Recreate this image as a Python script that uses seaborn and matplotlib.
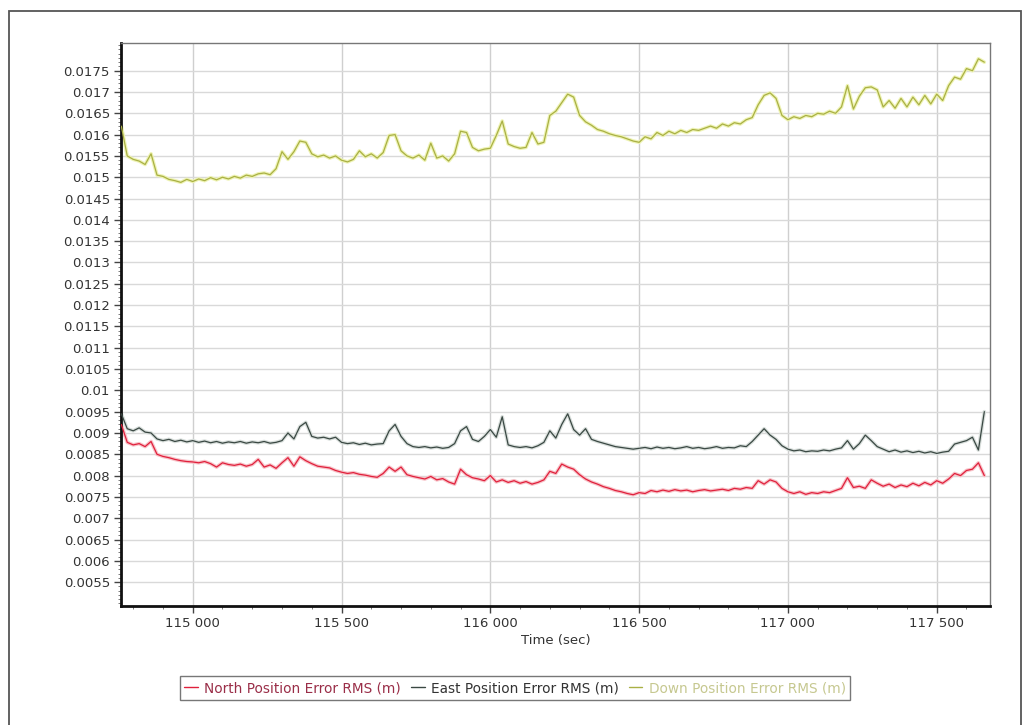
import numpy as np
import pandas as pd
import matplotlib
matplotlib.use("Agg")
import matplotlib.pyplot as plt
import seaborn as sns
from matplotlib.ticker import MultipleLocator, FixedLocator, FuncFormatter
from matplotlib.patches import Rectangle

# ---------------- data (values in millimetres) ----------------
t_start = 114760
t_step = 20

down_mm = [16.20, 15.50, 15.42, 15.38, 15.30, 15.55, 15.05, 15.02, 14.95, 14.92,
           14.88, 14.95, 14.90, 14.96, 14.92, 14.99, 14.94, 15.00, 14.96, 15.02,
           14.98, 15.05, 15.02, 15.08, 15.10, 15.06, 15.20, 15.60, 15.42, 15.60,
           15.85, 15.82, 15.55, 15.48, 15.52, 15.45, 15.50, 15.40, 15.36, 15.42,
           15.62, 15.48, 15.55, 15.45, 15.58, 15.98, 16.00, 15.62, 15.50, 15.45,
           15.52, 15.40, 15.80, 15.45, 15.50, 15.38, 15.55, 16.08, 16.05, 15.70,
           15.62, 15.66, 15.68, 15.98, 16.32, 15.78, 15.72, 15.68, 15.70, 16.05,
           15.78, 15.82, 16.45, 16.55, 16.75, 16.95, 16.88, 16.45, 16.30, 16.22,
           16.12, 16.08, 16.02, 15.98, 15.95, 15.90, 15.85, 15.82, 15.95, 15.90,
           16.05, 15.98, 16.08, 16.02, 16.10, 16.05, 16.12, 16.10, 16.15, 16.20,
           16.15, 16.25, 16.20, 16.28, 16.25, 16.35, 16.40, 16.70, 16.92, 16.98,
           16.85, 16.45, 16.35, 16.42, 16.38, 16.45, 16.42, 16.50, 16.48, 16.55,
           16.50, 16.65, 17.15, 16.60, 16.90, 17.10, 17.12, 17.05, 16.65, 16.80,
           16.62, 16.85, 16.65, 16.88, 16.70, 16.92, 16.72, 16.95, 16.80, 17.15,
           17.35, 17.30, 17.55, 17.50, 17.78, 17.70]

east_mm = [9.45, 9.10, 9.05, 9.12, 9.02, 9.00, 8.86, 8.82, 8.85, 8.80,
           8.83, 8.79, 8.82, 8.78, 8.81, 8.77, 8.80, 8.76, 8.79, 8.77,
           8.80, 8.76, 8.79, 8.77, 8.80, 8.76, 8.78, 8.82, 9.00, 8.86,
           9.15, 9.25, 8.92, 8.88, 8.90, 8.86, 8.90, 8.78, 8.75, 8.77,
           8.73, 8.76, 8.72, 8.74, 8.75, 9.05, 9.20, 8.92, 8.75, 8.68,
           8.66, 8.68, 8.65, 8.67, 8.64, 8.66, 8.75, 9.05, 9.15, 8.85,
           8.80, 8.92, 9.08, 8.90, 9.38, 8.72, 8.68, 8.66, 8.68, 8.65,
           8.70, 8.78, 9.05, 8.88, 9.20, 9.45, 9.08, 8.95, 9.10, 8.85,
           8.80, 8.76, 8.72, 8.68, 8.66, 8.64, 8.62, 8.64, 8.66, 8.63,
           8.67, 8.64, 8.66, 8.63, 8.65, 8.68, 8.64, 8.66, 8.63, 8.65,
           8.68, 8.64, 8.66, 8.65, 8.70, 8.68, 8.80, 8.95, 9.10, 8.95,
           8.85, 8.70, 8.62, 8.58, 8.60, 8.56, 8.58, 8.57, 8.60, 8.58,
           8.62, 8.65, 8.82, 8.62, 8.75, 8.95, 8.82, 8.68, 8.62, 8.56,
           8.60, 8.55, 8.58, 8.54, 8.57, 8.53, 8.56, 8.52, 8.55, 8.57,
           8.74, 8.78, 8.82, 8.90, 8.60, 9.50]

north_mm = [9.20, 8.78, 8.72, 8.75, 8.68, 8.80, 8.50, 8.45, 8.42, 8.38,
            8.35, 8.33, 8.32, 8.30, 8.33, 8.28, 8.20, 8.30, 8.26, 8.24,
            8.27, 8.22, 8.26, 8.38, 8.20, 8.25, 8.17, 8.30, 8.42, 8.22,
            8.44, 8.35, 8.28, 8.22, 8.20, 8.18, 8.12, 8.08, 8.05, 8.07,
            8.03, 8.01, 7.98, 7.96, 8.05, 8.20, 8.10, 8.20, 8.02, 7.98,
            7.95, 7.92, 7.98, 7.90, 7.93, 7.85, 7.80, 8.15, 8.02, 7.95,
            7.92, 7.88, 8.00, 7.85, 7.90, 7.84, 7.88, 7.82, 7.86, 7.80,
            7.84, 7.90, 8.10, 8.05, 8.27, 8.20, 8.15, 8.02, 7.92, 7.85,
            7.80, 7.74, 7.70, 7.65, 7.62, 7.58, 7.55, 7.60, 7.58, 7.65,
            7.62, 7.66, 7.63, 7.67, 7.64, 7.66, 7.62, 7.65, 7.67, 7.64,
            7.66, 7.68, 7.65, 7.70, 7.68, 7.72, 7.70, 7.88, 7.80, 7.90,
            7.85, 7.70, 7.62, 7.58, 7.62, 7.56, 7.60, 7.58, 7.62, 7.60,
            7.65, 7.70, 7.95, 7.72, 7.75, 7.70, 7.90, 7.82, 7.75, 7.80,
            7.72, 7.78, 7.74, 7.82, 7.76, 7.84, 7.78, 7.88, 7.82, 7.92,
            8.05, 8.00, 8.12, 8.15, 8.30, 8.00]

time_sec = [t_start + t_step * i for i in range(len(north_mm))]

series_names = ["North Position Error RMS (m)",
                "East Position Error RMS (m)",
                "Down Position Error RMS (m)"]
line_colors = ["#e0203c", "#3a4843", "#a9b044"]
halo_colors = ["#f7c2c8", "#d8dedb", "#eef3b4"]
legend_text_colors = ["#9a2e48", "#333333", "#c6c890"]

y_ticks = [v / 10000 for v in range(55, 180, 5)]
x_ticks = [115000, 115500, 116000, 116500, 117000, 117500]

# ---------------- build table ----------------
frames = []
for name, vals in zip(series_names, [north_mm, east_mm, down_mm]):
    frames.append(pd.DataFrame({"time": time_sec,
                                "value": np.array(vals) / 1000.0,
                                "series": name}))
df = pd.concat(frames, ignore_index=True)

# ---------------- figure ----------------
sns.set_style("white")
plt.rcParams["font.family"] = ["DejaVu Sans"]

fig = plt.figure(figsize=(10.22, 7.25), dpi=100)
ax = fig.add_axes([121 / 1022, 1 - 606 / 725, (990 - 121) / 1022, (606 - 43) / 725])

for name, lc, hc in zip(series_names, line_colors, halo_colors):
    sub = df[df["series"] == name]
    sns.lineplot(data=sub, x="time", y="value", ax=ax, color=hc,
                 linewidth=2.6, legend=False, zorder=2)
for name, lc in zip(series_names, line_colors):
    sub = df[df["series"] == name]
    sns.lineplot(data=sub, x="time", y="value", ax=ax, color=lc,
                 linewidth=0.9, label=name, zorder=3)

handles, labels = ax.get_legend_handles_labels()
if ax.get_legend() is not None:
    ax.get_legend().remove()

ax.set_xlim(114759, 117679)
ax.set_ylim(0.00494, 0.01815)

ax.yaxis.set_major_locator(FixedLocator(y_ticks))
ax.yaxis.set_minor_locator(MultipleLocator(0.0001))
ax.yaxis.set_major_formatter(FuncFormatter(lambda v, p: f"{v:.4f}".rstrip("0")))
ax.xaxis.set_major_locator(FixedLocator(x_ticks))
ax.xaxis.set_minor_locator(MultipleLocator(100))
ax.xaxis.set_major_formatter(FuncFormatter(lambda v, p: f"{int(round(v)):,}".replace(",", " ")))

ax.grid(True, which="major", axis="y", color="#d9d9d9", linewidth=1.0, zorder=0)
ax.grid(True, which="major", axis="x", color="#cfcfcf", linewidth=1.0, zorder=0)
ax.set_axisbelow(True)

ax.tick_params(axis="both", which="major", direction="out", length=5, width=1.0,
               color="#444444", labelsize=9.5, labelcolor="#333333", pad=3,
               left=True, bottom=True)
ax.tick_params(axis="both", which="minor", direction="out", length=2.5, width=0.6,
               color="#666666", left=True, bottom=True)

for side in ["left", "bottom"]:
    ax.spines[side].set_color("#111111")
    ax.spines[side].set_linewidth(2.0)
for side in ["top", "right"]:
    ax.spines[side].set_color("#777777")
    ax.spines[side].set_linewidth(1.0)

ax.set_ylabel("")
ax.set_xlabel("Time (sec)", fontsize=9.5, color="#333333")
ax.xaxis.set_label_coords(0.5, -0.050)

leg = fig.legend(handles, labels, loc="center", ncol=3,
                 bbox_to_anchor=(515 / 1022, 1 - 688 / 725),
                 bbox_transform=fig.transFigure,
                 frameon=True, fancybox=False, edgecolor="#555555",
                 fontsize=9.8, handlelength=1.0, handletextpad=0.45,
                 columnspacing=0.75, borderpad=0.35, borderaxespad=0)
leg.get_frame().set_linewidth(1.0)
for txt, c in zip(leg.get_texts(), legend_text_colors):
    txt.set_color(c)
for ln in leg.get_lines():
    ln.set_linewidth(1.0)

# outer frame
fig.patches.append(Rectangle((9 / 1022, -0.02), (1021 - 9) / 1022, 1 - 11 / 725 + 0.02,
                             transform=fig.transFigure, fill=False,
                             edgecolor="#555555", linewidth=1.3, zorder=0))

fig.savefig("out.png", dpi=100, facecolor="white")
